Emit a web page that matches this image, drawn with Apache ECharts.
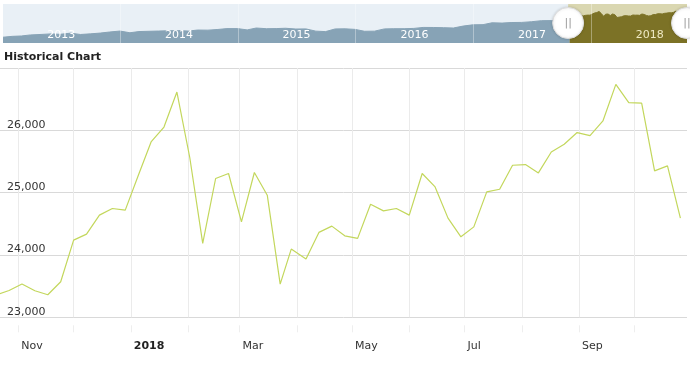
<!DOCTYPE html>
<html><head><meta charset="utf-8">
<script src="https://cdn.jsdelivr.net/npm/echarts@6/dist/echarts.min.js"></script>
<style>html,body{margin:0;padding:0;background:#fff}#c{width:690px;height:371px}</style>
</head><body><div id="c"></div>
<script>
// ---- main chart: weekly closes ----
const weekDates = ['2017-10-20','2017-10-27','2017-11-03','2017-11-10','2017-11-17','2017-11-24',
 '2017-12-01','2017-12-08','2017-12-15','2017-12-22','2017-12-29',
 '2018-01-05','2018-01-12','2018-01-19','2018-01-26',
 '2018-02-02','2018-02-09','2018-02-16','2018-02-23',
 '2018-03-02','2018-03-09','2018-03-16','2018-03-23','2018-03-29',
 '2018-04-06','2018-04-13','2018-04-20','2018-04-27',
 '2018-05-04','2018-05-11','2018-05-18','2018-05-25',
 '2018-06-01','2018-06-08','2018-06-15','2018-06-22','2018-06-29',
 '2018-07-06','2018-07-13','2018-07-20','2018-07-27',
 '2018-08-03','2018-08-10','2018-08-17','2018-08-24','2018-08-31',
 '2018-09-07','2018-09-14','2018-09-21','2018-09-28',
 '2018-10-05','2018-10-12','2018-10-19','2018-10-26'];
const weekValues = [23360,23430,23533,23426,23362,23570,
 24238,24334,24639,24746,24719,
 25270,25813,26053,26614,
 25560,24185,25227,25307,
 24531,25323,24959,23533,24094,
 23934,24362,24463,24307,
 24266,24815,24708,24746,
 24639,25307,25092,24591,24291,
 24451,25012,25055,25440,
 25451,25317,25653,25776,25964,
 25916,26150,26737,26444,
 26438,25349,25429,24591];

// ---- navigator: monthly closes before the selected range ----
const navMonths = ['2013-01-02','2013-01-31','2013-02-28','2013-03-28','2013-04-30','2013-05-31','2013-06-28','2013-07-31','2013-08-30','2013-09-30','2013-10-31','2013-11-29','2013-12-31',
 '2014-01-31','2014-02-28','2014-03-31','2014-04-30','2014-05-30','2014-06-30','2014-07-31','2014-08-29','2014-09-30','2014-10-31','2014-11-28','2014-12-31',
 '2015-01-30','2015-02-27','2015-03-31','2015-04-30','2015-05-29','2015-06-30','2015-07-31','2015-08-31','2015-09-30','2015-10-30','2015-11-30','2015-12-31',
 '2016-01-29','2016-02-29','2016-03-31','2016-04-29','2016-05-31','2016-06-30','2016-07-29','2016-08-31','2016-09-30','2016-10-31','2016-11-30','2016-12-30',
 '2017-01-31','2017-02-28','2017-03-31','2017-04-28','2017-05-31','2017-06-30','2017-07-31','2017-08-31','2017-09-29'];
const navMonthValues = [13412,13861,14054,14579,14840,15116,14910,15500,14810,15130,15546,16086,16577,
 15699,16322,16458,16581,16717,16827,16563,17098,17043,17391,17828,17823,
 17165,18133,17776,17841,18011,17620,17690,16528,16285,17664,17720,17425,
 16466,16517,17685,17774,17787,17930,18432,18401,18308,18142,19124,19763,
 19864,20812,20663,20941,21009,21350,21891,21948,22405];

// ---- axes ----
const viewStart = '2017-10-22T02:00:00';
const viewEnd = '2018-10-29T14:00:00';
const navStart = '2013-01-02';
const navEnd = '2018-10-26';
const monthTicks = ['2017-11-01','2017-12-01','2018-01-01','2018-02-01','2018-03-01','2018-04-01','2018-05-01','2018-06-01','2018-07-01','2018-08-01','2018-09-01','2018-10-01'];
const monthLabelDates = ['2017-11-01','2018-01-01','2018-03-01','2018-05-01','2018-07-01','2018-09-01'];
const monthLabels = ['Nov','2018','Mar','May','Jul','Sep'];
const yearTicks = ['2014-01-01','2015-01-01','2016-01-01','2017-01-01','2018-01-01'];
const yearLabelDates = ['2013-07-02','2014-07-02','2015-07-02','2016-07-02','2017-07-02','2018-07-02'];
const yearLabels = ['2013','2014','2015','2016','2017','2018'];
const yTicks = [23000,24000,25000,26000,27000];

const ts = s => Date.parse(s.length === 10 ? s + 'T00:00:00Z' : s + 'Z');

const mainData = weekDates.map((d, i) => [ts(d), weekValues[i]]);
const selStart = ts(viewStart);
// navigator: history (monthly, then weekly up to the first point inside the selection)
const navHist = navMonths.map((d, i) => [ts(d), navMonthValues[i]]).concat(mainData.slice(0, 2));
const navSel = mainData.slice(1);
const monthLabelTs = monthLabelDates.map(ts);
const yearLabelTs = yearLabelDates.map(ts);

const chart = echarts.init(document.getElementById('c'), null, {renderer: 'canvas'});
const FONT = 'DejaVu Sans';
chart.setOption({
  animation: false,
  textStyle: {fontFamily: FONT},
  title: {text: 'Historical Chart', left: 4, top: 52, padding: 0,
    textStyle: {fontSize: 11, fontWeight: 'bold', color: '#222', fontFamily: FONT}},
  grid: [
    {left: 0, right: 3, top: 68, bottom: 53.7},
    {left: 3, right: 3, top: 4, height: 39, show: true, backgroundColor: '#e9f0f6', borderWidth: 0}
  ],
  xAxis: [
    {gridIndex: 0, type: 'value', min: ts(viewStart), max: ts(viewEnd), offset: 8,
      axisLine: {show: false},
      axisTick: {show: true, length: 7, lineStyle: {color: '#eeeeee'}, customValues: monthTicks.map(ts)},
      splitLine: {show: true, lineStyle: {color: '#ebebeb', width: 1}},
      axisLabel: {customValues: monthLabelTs, align: 'left', margin: 15, padding: [0, 0, 0, 3],
        fontSize: 11, color: '#333', fontFamily: FONT, showMinLabel: true, showMaxLabel: true,
        formatter: v => { const i = monthLabelTs.indexOf(v); const t = i >= 0 ? monthLabels[i] : '';
          return /^\d{4}$/.test(t) ? '{b|' + t + '}' : t; },
        rich: {b: {fontWeight: 'bold', fontSize: 11, color: '#222', fontFamily: FONT}}}
    },
    {gridIndex: 1, type: 'value', min: ts(navStart), max: ts(navEnd), z: 10,
      axisLine: {show: false},
      axisTick: {show: false, customValues: yearTicks.map(ts)},
      splitLine: {show: true, lineStyle: {color: 'rgba(255,255,255,0.35)', width: 1}},
      axisLabel: {customValues: yearLabelTs, inside: true, margin: 2, fontSize: 11,
        color: '#ffffff', fontFamily: FONT,
        formatter: v => { const i = yearLabelTs.indexOf(v); const t = i >= 0 ? yearLabels[i] : '';
          return v >= selStart ? '{s|' + t + '}' : t; },
        rich: {s: {color: '#efeac4', fontSize: 11, fontFamily: FONT}}}
    }
  ],
  yAxis: [
    {gridIndex: 0, type: 'value', min: yTicks[0], max: yTicks[yTicks.length - 1], interval: 1000,
      axisLine: {show: false}, axisTick: {show: false},
      splitLine: {lineStyle: {color: '#d9d9d9', width: 1}},
      axisLabel: {inside: true, margin: 7, verticalAlign: 'bottom', showMaxLabel: false,
        fontSize: 11, color: '#333', fontFamily: FONT,
        formatter: v => v.toLocaleString('en-US')}},
    {gridIndex: 1, type: 'value', min: 10450, max: 30450, show: false, splitLine: {show: false}}
  ],
  series: [
    {type: 'line', xAxisIndex: 0, yAxisIndex: 0, data: mainData, showSymbol: false, symbol: 'none',
      clip: true, lineStyle: {color: '#c3d75c', width: 1.2}, z: 3},
    {type: 'line', xAxisIndex: 1, yAxisIndex: 1, data: navHist, showSymbol: false, symbol: 'none',
      lineStyle: {width: 1, color: '#87a3b6'}, areaStyle: {opacity: 1, color: '#87a3b6'}, z: 3, silent: true},
    {type: 'line', xAxisIndex: 1, yAxisIndex: 1, data: navSel, showSymbol: false, symbol: 'none',
      lineStyle: {width: 1, color: '#7c7226'}, areaStyle: {opacity: 1, color: '#7c7226'}, z: 4, silent: true,
      markPoint: {symbol: 'circle', symbolSize: 31, silent: true,
        itemStyle: {color: '#ffffff', borderColor: '#dddddd', borderWidth: 1, shadowBlur: 3, shadowColor: 'rgba(0,0,0,0.15)'},
        label: {show: true, position: 'inside', formatter: '||', color: '#9a9a9a', fontSize: 11, fontFamily: FONT},
        data: [{coord: [selStart, 20700]}, {coord: [ts(navEnd), 20700]}]}},
    {type: 'line', xAxisIndex: 1, yAxisIndex: 1, data: [], z: 1, silent: true,
      markArea: {silent: true, itemStyle: {color: '#dad7b1'},
        data: [[{xAxis: selStart}, {xAxis: ts(navEnd)}]]}}
  ]
});
</script></body></html>
